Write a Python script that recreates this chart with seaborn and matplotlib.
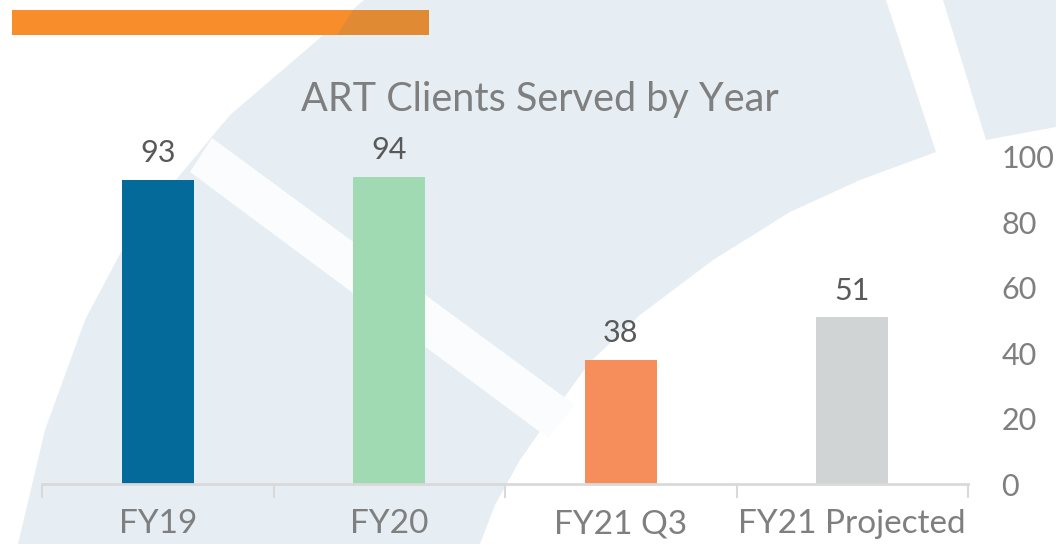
import matplotlib
matplotlib.use("Agg")
import matplotlib.pyplot as plt
from matplotlib.patches import Polygon, Rectangle
from matplotlib.ticker import FixedLocator
import seaborn as sns

# ---- data ----
categories = ["FY19", "FY20", "FY21 Q3", "FY21 Projected"]
values = [93, 94, 38, 51]
bar_colors = ["#036a99", "#a0dab3", "#f58e5a", "#d0d4d5"]
yticks = [0, 20, 40, 60, 80, 100]
title = "ART Clients Served by Year"

sns.set_theme(style="white")
plt.rcParams["font.family"] = ["Lato", "DejaVu Sans"]

W, H = 1056, 544
fig = plt.figure(figsize=(W / 100, H / 100), dpi=100)
fig.patch.set_facecolor("white")


def P(pts):
    return [(x / W, 1 - y / H) for x, y in pts]


BLUE = "#e6eef3"
# decorative background
main = [(364, 0), (886, 0), (936, 152), (860, 180), (790, 212), (713, 260), (640, 315),
        (590, 362), (555, 410), (520, 460), (495, 505), (480, 544), (18, 544), (45, 430),
        (85, 320), (130, 235), (180, 175), (230, 115), (300, 55)]
fig.add_artist(Polygon(P(main), closed=True, transform=fig.transFigure,
                       facecolor=BLUE, edgecolor="none", zorder=-5))
corner = [(943, 0), (1056, 0), (1056, 127), (986, 140)]
fig.add_artist(Polygon(P(corner), closed=True, transform=fig.transFigure,
                       facecolor=BLUE, edgecolor="none", zorder=-5))
band = [(212, 138), (575, 405), (548, 438), (190, 172)]
fig.add_artist(Polygon(P(band), closed=True, transform=fig.transFigure,
                       facecolor="#fbfcfd", edgecolor="none", zorder=-4))

# orange banner
fig.add_artist(Rectangle((12 / W, 1 - 35 / H), (429 - 12) / W, 25 / H,
                         transform=fig.transFigure, facecolor="#f78e2b",
                         edgecolor="none", zorder=-3))
fig.add_artist(Polygon(P([(353, 10), (429, 10), (429, 35), (337, 35)]), closed=True,
                       transform=fig.transFigure, facecolor="#e08a33",
                       edgecolor="none", zorder=-3))

# axes
ax = fig.add_axes([42 / W, 1 - 484 / H, (968 - 42) / W, (484 - 157) / H])
ax.set_facecolor("none")
ax.patch.set_alpha(0)

sns.barplot(x=categories, y=values, hue=categories, palette=bar_colors,
            legend=False, width=0.31, saturation=1, linewidth=0, edgecolor="none",
            ax=ax, zorder=2)

for cont in ax.containers:
    ax.bar_label(cont, padding=9, fontsize=22, color="#595959")

ax.set_xlim(-0.5, 3.5)
ax.set_ylim(0, 100)
ax.set_yticks(yticks)
ax.yaxis.tick_right()
ax.tick_params(axis="y", length=0, pad=24, labelsize=22, labelcolor="#7f7f7f")
ax.tick_params(axis="x", which="major", length=0, pad=18, labelsize=24, labelcolor="#7f7f7f")
ax.xaxis.set_minor_locator(FixedLocator([-0.5, 0.5, 1.5, 2.5, 3.5]))
ax.tick_params(axis="x", which="minor", length=10, width=1.5, color="#d9d9d9",
               direction="out", bottom=True)
for side in ["left", "right", "top"]:
    ax.spines[side].set_visible(False)
ax.spines["bottom"].set_color("#d9d9d9")
ax.spines["bottom"].set_linewidth(2)
ax.spines["bottom"].set_zorder(3)
ax.set_xlabel("")
ax.set_ylabel("")
ax.grid(False)

fig.text(540 / W, 1 - 100 / H, title, ha="center", va="center",
         fontsize=28.5, color="#7f7f7f")

fig.savefig("out.png", dpi=100)
